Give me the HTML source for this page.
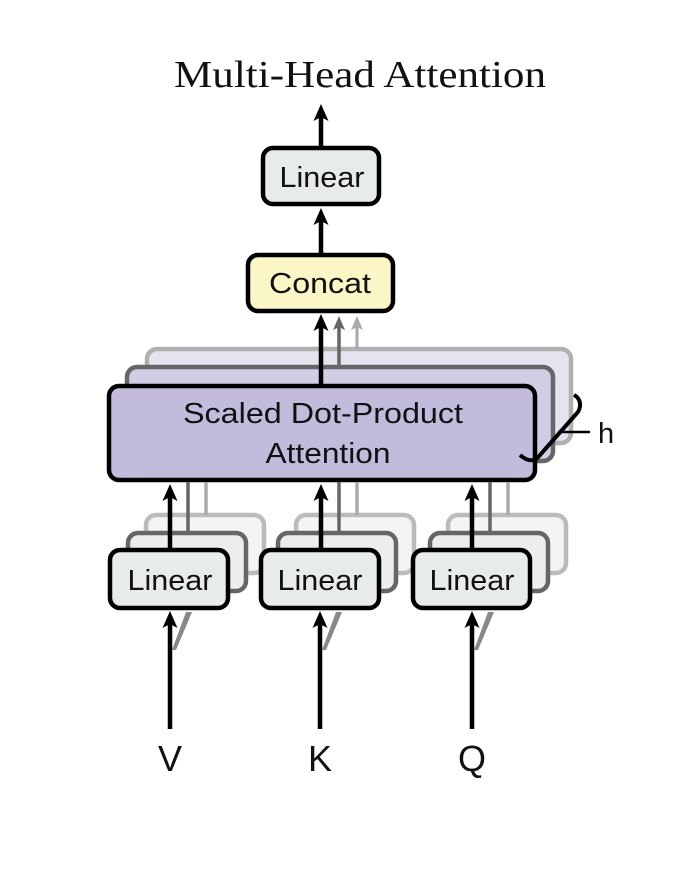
<!DOCTYPE html>
<html><head><meta charset="utf-8"><style>
html,body{margin:0;padding:0;background:#fff;}
svg{display:block;}
text{font-family:"Liberation Sans",sans-serif;fill:#111;}
</style></head><body>
<svg width="700" height="878" viewBox="0 0 700 878" xmlns="http://www.w3.org/2000/svg">
<defs>
<path id="ah" d="M0,0 L7.5,17 L0,13 L-7.5,17 Z"/>
<path id="ahs" d="M0,0 L6,14 L0,11 L-6,14 Z"/>
</defs>

<text x="360" y="87" text-anchor="middle" font-size="38" textLength="372" lengthAdjust="spacingAndGlyphs" style="font-family:'Liberation Serif',serif">Multi-Head Attention</text>

<!-- top arrow -->
<line x1="321" y1="146" x2="321" y2="115" stroke="#000" stroke-width="4.5"/>
<use href="#ah" x="321" y="104" fill="#000"/>
<rect x="263" y="148" width="116" height="56" rx="10" fill="#e8ece9" stroke="#000" stroke-width="4.5"/>
<text x="322" y="187" text-anchor="middle" font-size="29" textLength="85" lengthAdjust="spacingAndGlyphs">Linear</text>

<line x1="321" y1="253" x2="321" y2="220" stroke="#000" stroke-width="4.5"/>
<use href="#ah" x="321" y="208" fill="#000"/>
<rect x="248" y="255" width="145" height="56" rx="10" fill="#fbf6c6" stroke="#000" stroke-width="4.5"/>
<text x="320" y="293" text-anchor="middle" font-size="29" textLength="102" lengthAdjust="spacingAndGlyphs">Concat</text>

<!-- back SDPA layers -->
<rect x="147" y="349" width="424" height="94" rx="10" fill="#e6e3f0" stroke="#b0b0b0" stroke-width="4.5"/>
<line x1="357" y1="349" x2="357" y2="325" stroke="#aaa" stroke-width="3"/>
<use href="#ahs" x="357" y="316" fill="#aaa"/>
<rect x="127" y="367" width="426" height="94" rx="10" fill="#d2cce5" stroke="#666" stroke-width="4.5"/>
<line x1="339" y1="367" x2="339" y2="325" stroke="#666" stroke-width="3.5"/>
<use href="#ahs" x="339" y="316" fill="#666"/>
<line x1="321" y1="385" x2="321" y2="325" stroke="#000" stroke-width="4.5"/>
<use href="#ah" x="321" y="314" fill="#000"/>
<rect x="109" y="386" width="426" height="94" rx="10" fill="#c3bbdc" stroke="#000" stroke-width="4.5"/>
<text x="323" y="423" text-anchor="middle" font-size="29" textLength="280" lengthAdjust="spacingAndGlyphs">Scaled Dot-Product</text>
<text x="328" y="463" text-anchor="middle" font-size="29" textLength="125" lengthAdjust="spacingAndGlyphs">Attention</text>
<!-- brace -->
<path d="M520,455 C528,462 535,462 540,455 L578,412 C582,405 580,398 574,395" fill="none" stroke="#000" stroke-width="4"/>
<line x1="558" y1="432" x2="590" y2="432" stroke="#000" stroke-width="2.5"/>
<text x="598" y="443" font-size="29">h</text>

<!-- V -->
<g>
<rect x="146" y="515" width="118" height="58" rx="10" fill="#f3f5f4" stroke="#bbb" stroke-width="4.5"/>
<line x1="206" y1="515" x2="206" y2="482" stroke="#aaa" stroke-width="3.5"/>
<rect x="128" y="533" width="118" height="58" rx="10" fill="#eceeed" stroke="#666" stroke-width="4.5"/>
<line x1="188" y1="533" x2="188" y2="482" stroke="#666" stroke-width="3.5"/>
<line x1="170" y1="550" x2="170" y2="495" stroke="#000" stroke-width="4.5"/>
<use href="#ah" x="170" y="484" fill="#000"/>
<rect x="110" y="550" width="118" height="58" rx="10" fill="#e8ece9" stroke="#000" stroke-width="4.5"/>
<text x="170" y="590" text-anchor="middle" font-size="29" textLength="85" lengthAdjust="spacingAndGlyphs">Linear</text>
<path d="M172,650 L186,612 L192,612 L176,650 Z" fill="#888"/>
<line x1="170" y1="729" x2="170" y2="622" stroke="#000" stroke-width="4.5"/>
<use href="#ah" x="170" y="611" fill="#000"/>
<text x="170" y="771" text-anchor="middle" font-size="36">V</text>
</g>
<!-- K -->
<g>
<rect x="296" y="515" width="118" height="58" rx="10" fill="#f3f5f4" stroke="#bbb" stroke-width="4.5"/>
<line x1="357" y1="515" x2="357" y2="482" stroke="#aaa" stroke-width="3.5"/>
<rect x="278" y="533" width="118" height="58" rx="10" fill="#eceeed" stroke="#666" stroke-width="4.5"/>
<line x1="339" y1="533" x2="339" y2="482" stroke="#666" stroke-width="3.5"/>
<line x1="321" y1="550" x2="321" y2="495" stroke="#000" stroke-width="4.5"/>
<use href="#ah" x="321" y="484" fill="#000"/>
<rect x="261" y="550" width="118" height="58" rx="10" fill="#e8ece9" stroke="#000" stroke-width="4.5"/>
<text x="320" y="590" text-anchor="middle" font-size="29" textLength="85" lengthAdjust="spacingAndGlyphs">Linear</text>
<path d="M322,650 L336,612 L342,612 L326,650 Z" fill="#888"/>
<line x1="320" y1="729" x2="320" y2="622" stroke="#000" stroke-width="4.5"/>
<use href="#ah" x="320" y="611" fill="#000"/>
<text x="320" y="771" text-anchor="middle" font-size="36">K</text>
</g>
<!-- Q -->
<g>
<rect x="448" y="515" width="118" height="58" rx="10" fill="#f3f5f4" stroke="#bbb" stroke-width="4.5"/>
<line x1="508" y1="515" x2="508" y2="482" stroke="#aaa" stroke-width="3.5"/>
<rect x="430" y="533" width="118" height="58" rx="10" fill="#eceeed" stroke="#666" stroke-width="4.5"/>
<line x1="490" y1="533" x2="490" y2="482" stroke="#666" stroke-width="3.5"/>
<line x1="472" y1="550" x2="472" y2="495" stroke="#000" stroke-width="4.5"/>
<use href="#ah" x="472" y="484" fill="#000"/>
<rect x="413" y="550" width="117" height="58" rx="10" fill="#e8ece9" stroke="#000" stroke-width="4.5"/>
<text x="472" y="590" text-anchor="middle" font-size="29" textLength="85" lengthAdjust="spacingAndGlyphs">Linear</text>
<path d="M474,650 L488,612 L494,612 L478,650 Z" fill="#888"/>
<line x1="472" y1="729" x2="472" y2="622" stroke="#000" stroke-width="4.5"/>
<use href="#ah" x="472" y="611" fill="#000"/>
<text x="472" y="771" text-anchor="middle" font-size="36">Q</text>
</g>
</svg>
</body></html>
